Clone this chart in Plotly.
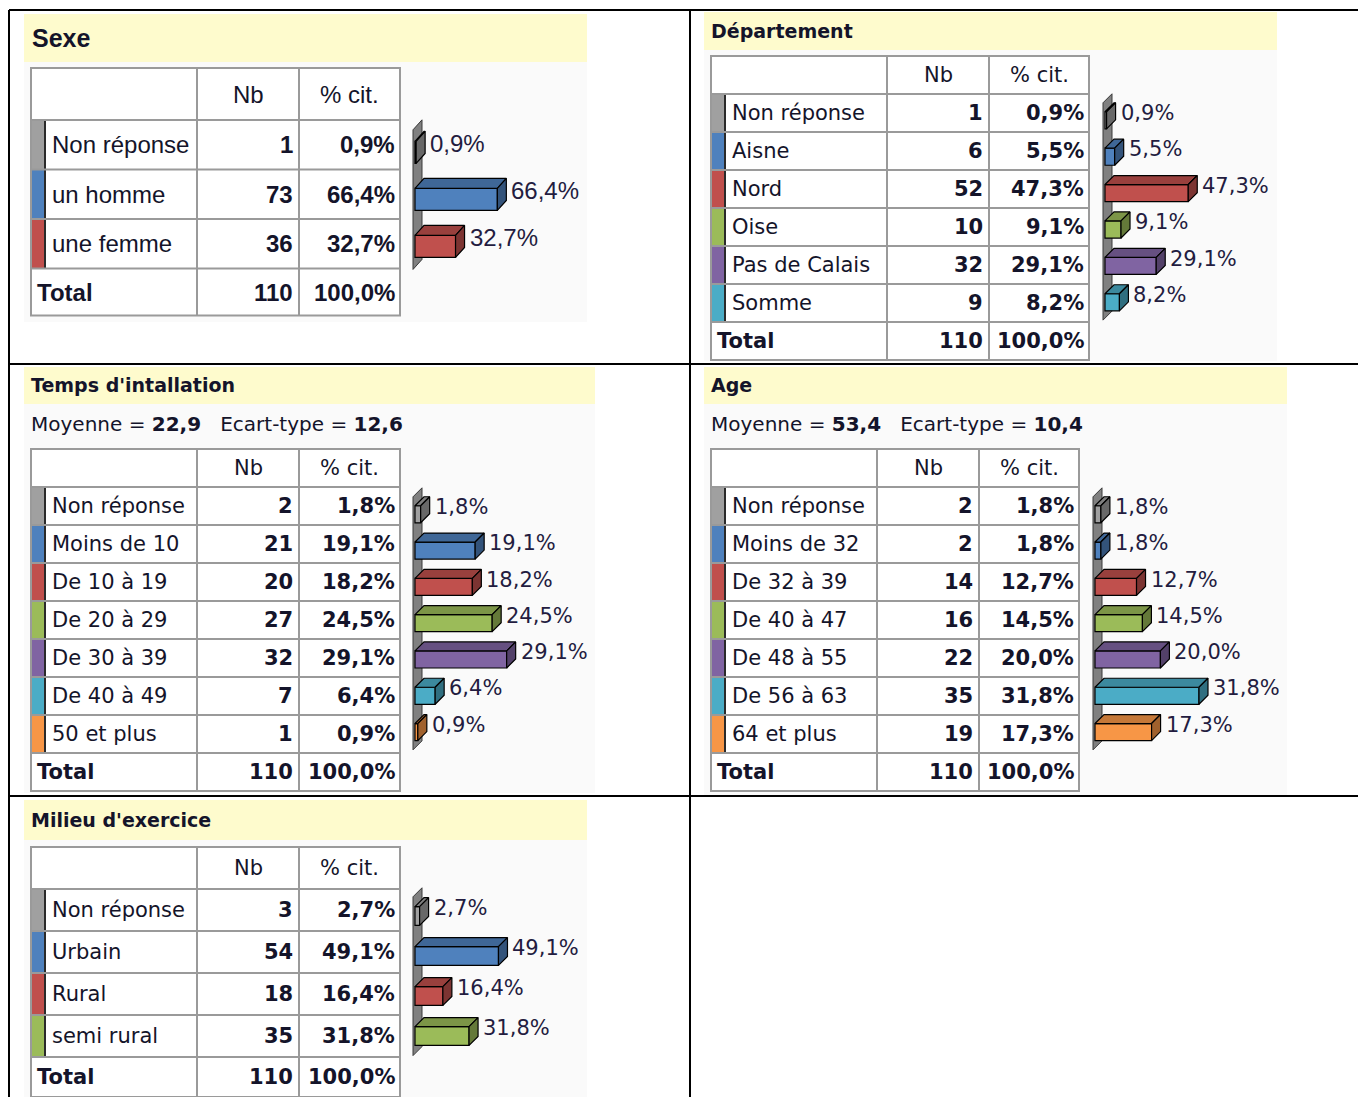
import plotly.graph_objects as go

W, H = 1358, 1097

# ---------------- data ----------------
sexe_labels = ["Non réponse", "un homme", "une femme"]
sexe_nb = [1, 73, 36]
sexe_pct = [0.9, 66.4, 32.7]

dept_labels = ["Non réponse", "Aisne", "Nord", "Oise", "Pas de Calais", "Somme"]
dept_nb = [1, 6, 52, 10, 32, 9]
dept_pct = [0.9, 5.5, 47.3, 9.1, 29.1, 8.2]

temps_labels = ["Non réponse", "Moins de 10", "De 10 à 19", "De 20 à 29",
                "De 30 à 39", "De 40 à 49", "50 et plus"]
temps_nb = [2, 21, 20, 27, 32, 7, 1]
temps_pct = [1.8, 19.1, 18.2, 24.5, 29.1, 6.4, 0.9]
temps_mean, temps_sd = 22.9, 12.6

age_labels = ["Non réponse", "Moins de 32", "De 32 à 39", "De 40 à 47",
              "De 48 à 55", "De 56 à 63", "64 et plus"]
age_nb = [2, 2, 14, 16, 22, 35, 19]
age_pct = [1.8, 1.8, 12.7, 14.5, 20.0, 31.8, 17.3]
age_mean, age_sd = 53.4, 10.4

milieu_labels = ["Non réponse", "Urbain", "Rural", "semi rural"]
milieu_nb = [3, 54, 18, 35]
milieu_pct = [2.7, 49.1, 16.4, 31.8]

total_nb = 110
total_pct = 100.0

# ---------------- style ----------------
GRAY = "#A0A0A0"
PALETTE = ["#4F81BD", "#C0504D", "#9BBB59", "#8064A2", "#4BACC6", "#F79646"]
YELLOW = "#FEFBCD"
BODY = "#FAFAFA"
GRID = "#9A9A9A"
INK = "#14142a"
LABEL_INK = "#231c40"
WIDE = "DejaVu Sans, Verdana, sans-serif"
TALL = "Liberation Sans, Arial, sans-serif"


def px(x):
    return x / W


def py(y):
    return 1 - y / H


def shade(hexcol, f):
    r, g, b = (int(hexcol[i:i + 2], 16) for i in (1, 3, 5))
    return "rgb(%d,%d,%d)" % (r * f, g * f, b * f)


def pct_txt(v):
    return f"{v:.1f}".replace(".", ",") + "%"


def num_txt(v):
    return f"{v:.1f}".replace(".", ",")


shapes, annotations, traces = [], [], []


def rect(x0, x1, y0, y1, fill, line=None, lw=0, layer="below"):
    shapes.append(dict(type="rect", xref="paper", yref="paper",
                       x0=px(x0), x1=px(x1), y0=py(y1), y1=py(y0),
                       fillcolor=fill, layer=layer,
                       line=dict(color=line or fill, width=lw)))


def seg(x0, y0, x1, y1, color, w):
    shapes.append(dict(type="line", xref="paper", yref="paper",
                       x0=px(x0), x1=px(x1), y0=py(y0), y1=py(y1),
                       line=dict(color=color, width=w)))


def text(x, y, s, size, family, anchor="left", color=INK):
    annotations.append(dict(x=px(x), y=py(y), xref="paper", yref="paper",
                            text=s, showarrow=False, xanchor=anchor,
                            yanchor="middle", borderpad=0, borderwidth=0,
                            font=dict(size=size, family=family, color=color)))


# ---------------- frame of the page table ----------------
seg(9, 10, W, 10, "black", 2)
seg(9, 364, W, 364, "black", 2)
seg(9, 796, W, 796, "black", 2)
seg(9, 10, 9, H, "black", 2)
seg(690, 10, 690, H, "black", 2)

panels = [
    dict(title="Sexe", labels=sexe_labels, nb=sexe_nb, pct=sexe_pct, stats=None,
         head=(24, 587, 14, 62), body=(24, 587, 62, 322), title_x=32,
         cols=(31, 197, 299, 400), rows=(68, 52, 49.5, 47),
         font=TALL, tsize=24, hsize=25, lsize=24,
         ox=415, scale=1.24, y0=143, pitch=47, ddx=9, ddy=10),
    dict(title="Département", labels=dept_labels, nb=dept_nb, pct=dept_pct, stats=None,
         head=(704, 1277, 12, 50), body=(704, 1277, 50, 361), title_x=711,
         cols=(711, 887, 989, 1089), rows=(56, 38, 38, 38),
         font=WIDE, tsize=21, hsize=19, lsize=21,
         ox=1105, scale=1.76, y0=113, pitch=36.4, ddx=9, ddy=9),
    dict(title="Temps d'intallation", labels=temps_labels, nb=temps_nb, pct=temps_pct,
         stats=(temps_mean, temps_sd),
         head=(24, 595, 367, 404), body=(24, 595, 404, 793), title_x=31,
         cols=(31, 197, 299, 400), rows=(449, 38, 38, 38),
         font=WIDE, tsize=21, hsize=19, lsize=21,
         ox=415, scale=3.15, y0=507, pitch=36.3, ddx=9, ddy=9),
    dict(title="Age", labels=age_labels, nb=age_nb, pct=age_pct,
         stats=(age_mean, age_sd),
         head=(704, 1287, 367, 404), body=(704, 1287, 404, 795), title_x=711,
         cols=(711, 877, 979, 1079), rows=(449, 38, 38, 38),
         font=WIDE, tsize=21, hsize=19, lsize=21,
         ox=1095, scale=3.27, y0=507, pitch=36.3, ddx=9, ddy=9),
    dict(title="Milieu d'exercice", labels=milieu_labels, nb=milieu_nb, pct=milieu_pct,
         stats=None,
         head=(24, 587, 800, 840), body=(24, 587, 840, 1097), title_x=31,
         cols=(31, 197, 299, 400), rows=(847, 42, 42, 40),
         font=WIDE, tsize=21, hsize=19, lsize=21,
         ox=415, scale=1.70, y0=908, pitch=40, ddx=9, ddy=9),
]

layout_axes = {}

for k, p in enumerate(panels, 1):
    n = len(p["labels"])
    colors = [GRAY] + PALETTE[:n - 1]
    f = p["font"]

    # header band and body
    hx0, hx1, hy0, hy1 = p["head"]
    rect(hx0, hx1, hy0, hy1, YELLOW)
    bx0, bx1, by0, by1 = p["body"]
    rect(bx0, bx1, by0, by1, BODY)
    text(p["title_x"], (hy0 + hy1) / 2, "<b>%s</b>" % p["title"], p["hsize"], f)

    if p["stats"]:
        m, sd = p["stats"]
        text(p["title_x"], 424,
             "Moyenne = <b>%s</b>\u00a0\u00a0\u00a0Ecart-type = <b>%s</b>"
             % (num_txt(m), num_txt(sd)), 20, f)

    # frequency table
    c0, c1, c2, c3 = p["cols"]
    top, hh, rh, th = p["rows"]
    edges = [top, top + hh] + [top + hh + rh * (i + 1) for i in range(n)]
    edges.append(edges[-1] + th)
    rect(c0, c3, edges[0], edges[-1], "white")
    for i in range(n):
        rect(c0, c0 + 13, edges[i + 1], edges[i + 2], colors[i])
        rect(c0 + 13, c0 + 15, edges[i + 1], edges[i + 2], "#2b2b2b")
    for e in edges[1:-1]:
        seg(c0, e, c3, e, GRID, 2)
    for c in (c1, c2):
        seg(c, edges[0], c, edges[-1], GRID, 2)
    shapes.append(dict(type="rect", xref="paper", yref="paper",
                       x0=px(c0), x1=px(c3), y0=py(edges[-1]), y1=py(edges[0]),
                       line=dict(color=GRID, width=2), fillcolor="rgba(0,0,0,0)"))

    ts = p["tsize"]
    text((c1 + c2) / 2, (edges[0] + edges[1]) / 2, "Nb", ts, f, "center")
    text((c2 + c3) / 2, (edges[0] + edges[1]) / 2, "% cit.", ts, f, "center")
    for i in range(n):
        yc = (edges[i + 1] + edges[i + 2]) / 2
        text(c0 + 21, yc, p["labels"][i], ts, f)
        text(c2 - 6, yc, "<b>%d</b>" % p["nb"][i], ts, f, "right")
        text(c3 - 5, yc, "<b>%s</b>" % pct_txt(p["pct"][i]), ts, f, "right")
    yc = (edges[-2] + edges[-1]) / 2
    text(c0 + 6, yc, "<b>Total</b>", ts, f)
    text(c2 - 6, yc, "<b>%d</b>" % total_nb, ts, f, "right")
    text(c3 - 5, yc, "<b>%s</b>" % pct_txt(total_pct), ts, f, "right")

    # 3D horizontal bar chart on its own axes
    s, ox, y0, pit = p["scale"], p["ox"], p["y0"], p["pitch"]
    xr = max(p["pct"]) * s + 24
    xa = "x" if k == 1 else "x%d" % k
    ya = "y" if k == 1 else "y%d" % k
    ytop, ybot = -0.8, n - 1 + 0.9
    layout_axes["xaxis" if k == 1 else "xaxis%d" % k] = dict(
        domain=[px(ox - 6), px(ox + xr)], range=[-6 / s, xr / s],
        anchor=ya, visible=False, fixedrange=True)
    layout_axes["yaxis" if k == 1 else "yaxis%d" % k] = dict(
        domain=[py(y0 + ybot * pit), py(y0 + ytop * pit)], range=[ybot, ytop],
        anchor=xa, visible=False, fixedrange=True)

    dxu = p["ddx"] / s
    dyu = p["ddy"] / pit
    # back wall of the chart
    wx = -2 / s
    wt, wb = -0.28, n - 1 + 0.69
    shapes.append(dict(type="path", xref=xa, yref=ya, layer="below",
                       path="M %f,%f L %f,%f L %f,%f L %f,%f Z" % (
                           wx, wt, wx + dxu, wt - dyu, wx + dxu, wb - dyu, wx, wb),
                       fillcolor="#808080", line=dict(color="#3a3a3a", width=1)))

    ypos = [i + 0.2 for i in range(n)]
    half = 0.235
    traces.append(go.Bar(x=p["pct"], y=ypos, orientation="h", width=0.47, base=0,
                         marker=dict(color=colors, line=dict(color="black", width=1.2)),
                         xaxis=xa, yaxis=ya, hoverinfo="skip", showlegend=False))
    for i, v in enumerate(p["pct"]):
        t, b = ypos[i] - half, ypos[i] + half
        traces.append(go.Scatter(
            x=[0, dxu, v + dxu, v, 0], y=[t, t - dyu, t - dyu, t, t],
            mode="lines", fill="toself", fillcolor=shade(colors[i], 0.8),
            line=dict(color="black", width=1.2), xaxis=xa, yaxis=ya,
            hoverinfo="skip", showlegend=False))
        traces.append(go.Scatter(
            x=[v, v + dxu, v + dxu, v, v], y=[t, t - dyu, b - dyu, b, t],
            mode="lines", fill="toself", fillcolor=shade(colors[i], 0.65),
            line=dict(color="black", width=1.2), xaxis=xa, yaxis=ya,
            hoverinfo="skip", showlegend=False))
        annotations.append(dict(x=v, y=i, xref=xa, yref=ya, text=pct_txt(v),
                                showarrow=False, xanchor="left", yanchor="middle",
                                xshift=p["ddx"] + 5, borderpad=0, borderwidth=0,
                                font=dict(size=p["lsize"], family=f, color=LABEL_INK)))

fig = go.Figure(data=traces)
fig.update_layout(width=W, height=H, margin=dict(l=0, r=0, t=0, b=0),
                  paper_bgcolor="white", plot_bgcolor="rgba(0,0,0,0)",
                  showlegend=False, shapes=shapes, annotations=annotations,
                  **layout_axes)
fig.write_html("out.html")
